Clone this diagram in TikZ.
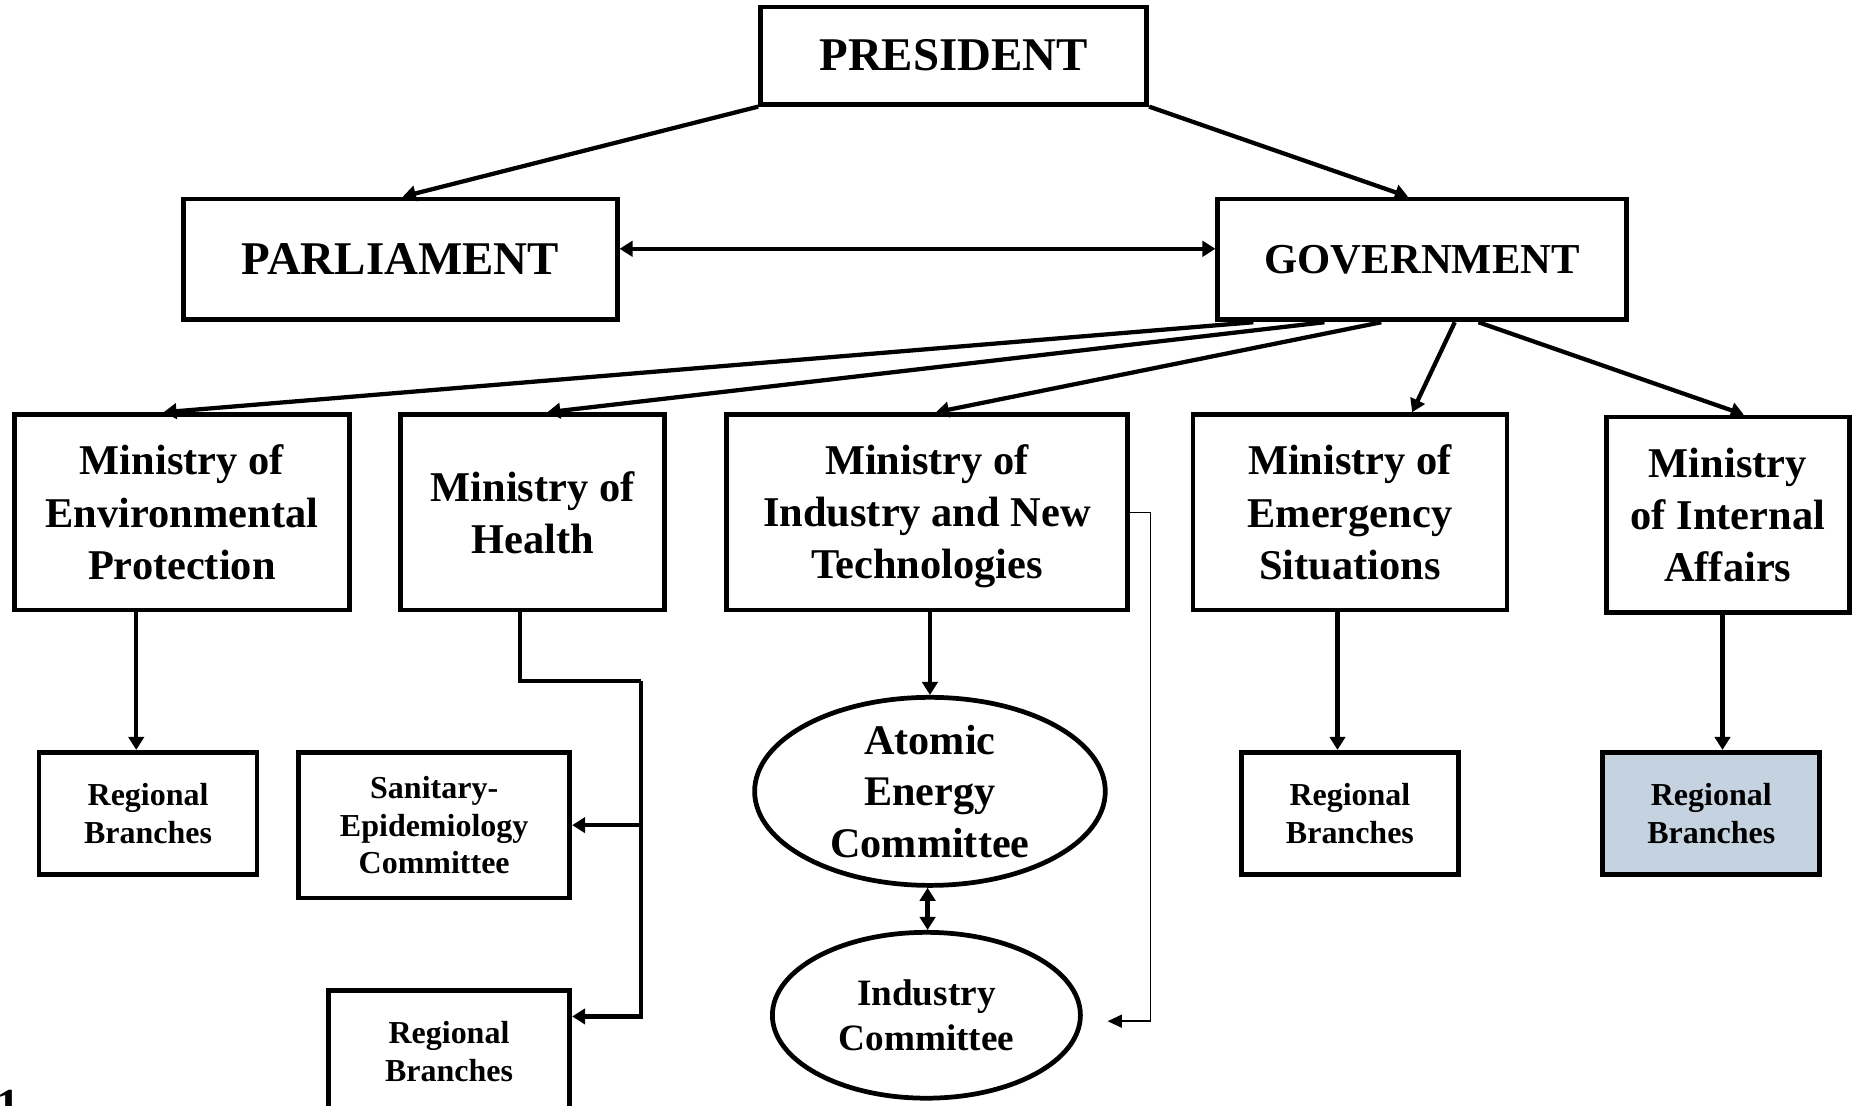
\documentclass[tikz,border=0pt]{standalone}
\usepackage{fontspec}
\setmainfont{Liberation Serif}
\usetikzlibrary{shapes.geometric,arrows.meta,calc}
\definecolor{regblue}{HTML}{C5D3E0}
\begin{document}
\begin{tikzpicture}[x=0.5pt,y=-0.5pt,
  box/.style={draw, line width=2pt, rectangle, align=center, inner sep=0pt},
  oval/.style={draw, line width=2pt, ellipse, align=center, inner sep=0pt},
  topfont/.style={font=\fontsize{19.8}{24}\selectfont\bfseries},
  govfont/.style={font=\fontsize{18}{22}\selectfont\bfseries},
  minfont/.style={font=\fontsize{17.9}{22}\selectfont\bfseries},
  regfont/.style={font=\fontsize{13.5}{16}\selectfont\bfseries},
  atfont/.style={font=\fontsize{17.8}{21.8}\selectfont\bfseries},
  icfont/.style={font=\fontsize{15.7}{18.6}\selectfont\bfseries},
  conn/.style={line width=1.8pt},
  arr/.style={line width=1.8pt, -{Triangle[length=5.5pt,width=6.5pt]}},
  darr/.style={line width=1.8pt, {Triangle[length=5.5pt,width=6.5pt]}-{Triangle[length=5.5pt,width=6.5pt]}},
  thinarr/.style={line width=0.6pt, -{Triangle[length=6pt,width=5.5pt]}}
]
\useasboundingbox (0,0) rectangle (1565,933);
\fill[white] (0,0) rectangle (1565,933);

% top level
\node[box, topfont, minimum width=163pt, minimum height=41pt] (pres) at (805,47) {PRESIDENT};
\node[box, topfont, minimum width=183pt, minimum height=51pt] (parl) at (338,219) {PARLIAMENT};
\node[box, govfont, minimum width=172.5pt, minimum height=51pt] (gov) at (1200.5,219) {GOVERNMENT};

% ministries
\node[box, minfont, minimum width=141.5pt, minimum height=82.5pt] (env) at (153.5,432.5) {Ministry of\\Environmental\\Protection};
\node[box, minfont, minimum width=111.5pt, minimum height=82.5pt] (health) at (449.5,432.5) {Ministry of\\Health};
\node[box, minfont, minimum width=169.5pt, minimum height=82.5pt] (ind) at (782.5,432.5) {\rule{0pt}{16pt}Ministry of\\Industry and New\\Technologies};
\node[box, minfont, minimum width=132.5pt, minimum height=82.5pt] (emer) at (1139.5,432.5) {Ministry of\\Emergency\\Situations};
\node[box, minfont, minimum width=102.5pt, minimum height=82.5pt] (intl) at (1458.5,434.5) {Ministry\\of Internal\\Affairs};

% lower level
\node[box, regfont, minimum width=92pt, minimum height=51.5pt] (reg1) at (125,686.5) {Regional\\Branches};
\node[box, regfont, minimum width=114.5pt, minimum height=61.5pt] (san) at (366.5,696.5) {Sanitary-\\Epidemiology\\Committee};
\node[box, regfont, minimum width=102pt, minimum height=52pt] (reg2) at (379,888) {Regional\\Branches};
\node[oval, atfont, minimum width=148pt, minimum height=79pt] (atom) at (785,668) {Atomic\\Energy\\Committee};
\node[oval, icfont, minimum width=130pt, minimum height=70pt] (indc) at (782,857) {Industry\\Committee};
\node[box, regfont, minimum width=91.5pt, minimum height=51.5pt] (reg3) at (1139.5,686.5) {Regional\\Branches};
\node[box, regfont, fill=regblue, minimum width=91.5pt, minimum height=51.5pt] (reg4) at (1444.5,686.5) {Regional\\Branches};

% label at bottom left, cut by the edge as in the reference
\node[anchor=base west, inner sep=0pt, font=\fontsize{20}{24}\selectfont\bfseries] (lbl) at (-3,947) {1};

% connectors
\draw[arr] (pres.south west) -- ($(parl.north)+(2,0)$);
\draw[arr] (pres.south east) -- ($(gov.north)+(-12,0)$);
\draw[darr] ([yshift=4.5pt]parl.east) -- ([yshift=4.5pt]gov.west);

\draw[arr] ($(gov.south west)+(32,0)$) -- ($(env.north)+(-15.5,0)$);
\draw[arr] ($(gov.south west)+(92,0)$) -- ($(health.north)+(12.5,0)$);
\draw[arr] ($(gov.south west)+(140,0)$) -- ($(ind.north)+(7.5,0)$);
\draw[arr] ($(gov.south west)+(202,0)$) -- ($(emer.north)+(52.5,0)$);
\draw[arr] ($(gov.south west)+(222,0)$) -- ($(intl.north)+(13.5,0)$);

\draw[arr] (env.south -| 115,0) -- (reg1.north -| 115,0);

\coordinate (hj) at (541,575);
\draw[conn] (health.south -| 439,0) |- (hj);
\draw[arr] (hj) -- (hj |- 0,858) -- (reg2.east |- 0,858);
\draw[arr] (hj |- san.east) -- (san.east);

\draw[arr] (ind.south -| atom.north) -- (atom.north);
\draw[darr] (atom.south -| 783,0) -- (indc.north -| 783,0);
\coordinate (it) at (935,862);
\draw[thinarr] (ind.east) -- (971,432.5) |- (it);

\draw[arr] (emer.south -| 1129,0) -- (reg3.north -| 1129,0);
\draw[arr] (intl.south -| 1454,0) -- (reg4.north -| 1454,0);
\end{tikzpicture}
\end{document}
